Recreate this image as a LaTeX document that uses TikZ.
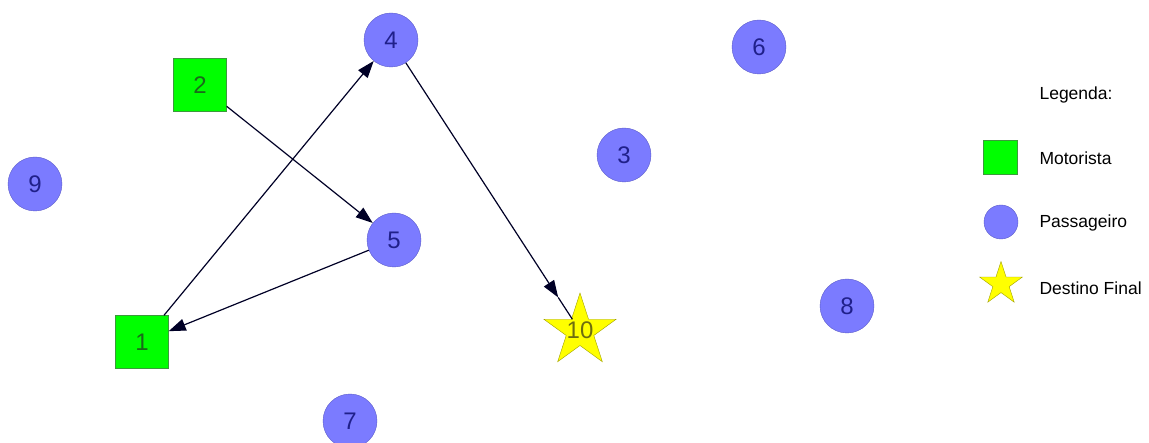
\documentclass[tikz,border=0pt]{standalone}
\usepackage{fontspec}
\setmainfont{Liberation Sans}
\usetikzlibrary{shapes.geometric,arrows.meta,calc}

\definecolor{drvfill}{HTML}{00FF00}
\definecolor{drvline}{HTML}{3C9A3C}
\definecolor{drvtext}{HTML}{1A6A1A}
\definecolor{pasfill}{HTML}{7B7BFF}
\definecolor{pasline}{HTML}{5A5AC8}
\definecolor{pastext}{HTML}{20208A}
\definecolor{dstfill}{HTML}{FFFF00}
\definecolor{dstline}{HTML}{A0A000}
\definecolor{dsttext}{HTML}{6E6E10}

\tikzset{
  numfont/.style={font=\fontsize{24}{26}\selectfont},
  driver/.style={rectangle, draw=drvline, fill=drvfill, text=drvtext,
    minimum size=53pt, inner sep=0pt, numfont},
  passenger/.style={circle, draw=pasline, fill=pasfill, text=pastext,
    minimum size=54pt, inner sep=0pt, numfont},
  goal/.style={star, star points=5, star point ratio=2.618, draw=dstline,
    fill=dstfill, text=dsttext, minimum size=76pt, inner sep=0pt},
  goallabel/.style={text=dsttext, numfont},
  route/.style={draw=black!85!blue, line width=1.2pt,
    -{Triangle[length=17pt,width=12pt]}},
  plain/.style={draw=black!85!blue, line width=1.2pt},
  legtext/.style={anchor=west, font=\fontsize{17.5}{20}\selectfont},
}

\begin{document}
\begin{tikzpicture}[x=1pt, y=-1pt]
  \useasboundingbox (0,0) rectangle (1149,443);
  \clip (0,0) rectangle (1149,443);

  % drivers
  \node[driver] (n1) at (142,342) {1};
  \node[driver] (n2) at (200,85) {2};

  % passengers
  \node[passenger] (n3) at (624,155) {3};
  \node[passenger] (n4) at (391,40) {4};
  \node[passenger] (n5) at (394,240) {5};
  \node[passenger] (n6) at (759,47) {6};
  \node[passenger] (n7) at (350,421) {7};
  \node[passenger] (n8) at (847,306) {8};
  \node[passenger] (n9) at (35,184) {9};

  % final destination
  \node[goal] (n10) at (580,331) {};

  % routes
  \draw[route] (n1) -- (n4);
  \draw[route] (n2) -- (n5);
  \draw[route] (n5) -- (n1);
  \coordinate (tip) at ($(n10.center)!40pt!(n4.center)$);
  \coordinate (tail) at ($(n10.center)!14pt!(n4.center)$);
  \draw[route] (n4) -- (tip);
  \draw[plain] (tip) -- (tail);
  \node[goallabel] (l10) at (580,330) {10};

  % legend
  \node[legtext] (legtitle) at (1036,95) {Legenda:};
  \node[driver, minimum size=34pt] (legdrv) at (1000,157) {};
  \node[legtext] (legdrvtxt) at (1036,158) {Motorista};
  \node[passenger, minimum size=34pt] (legpas) at (1001,222) {};
  \node[legtext] (legpastxt) at (1036,223) {Passageiro};
  \node[goal, minimum size=45pt] (legdst) at (1001,284) {};
  \node[legtext] (legdsttxt) at (1036,288) {Destino Final};
\end{tikzpicture}
\end{document}
